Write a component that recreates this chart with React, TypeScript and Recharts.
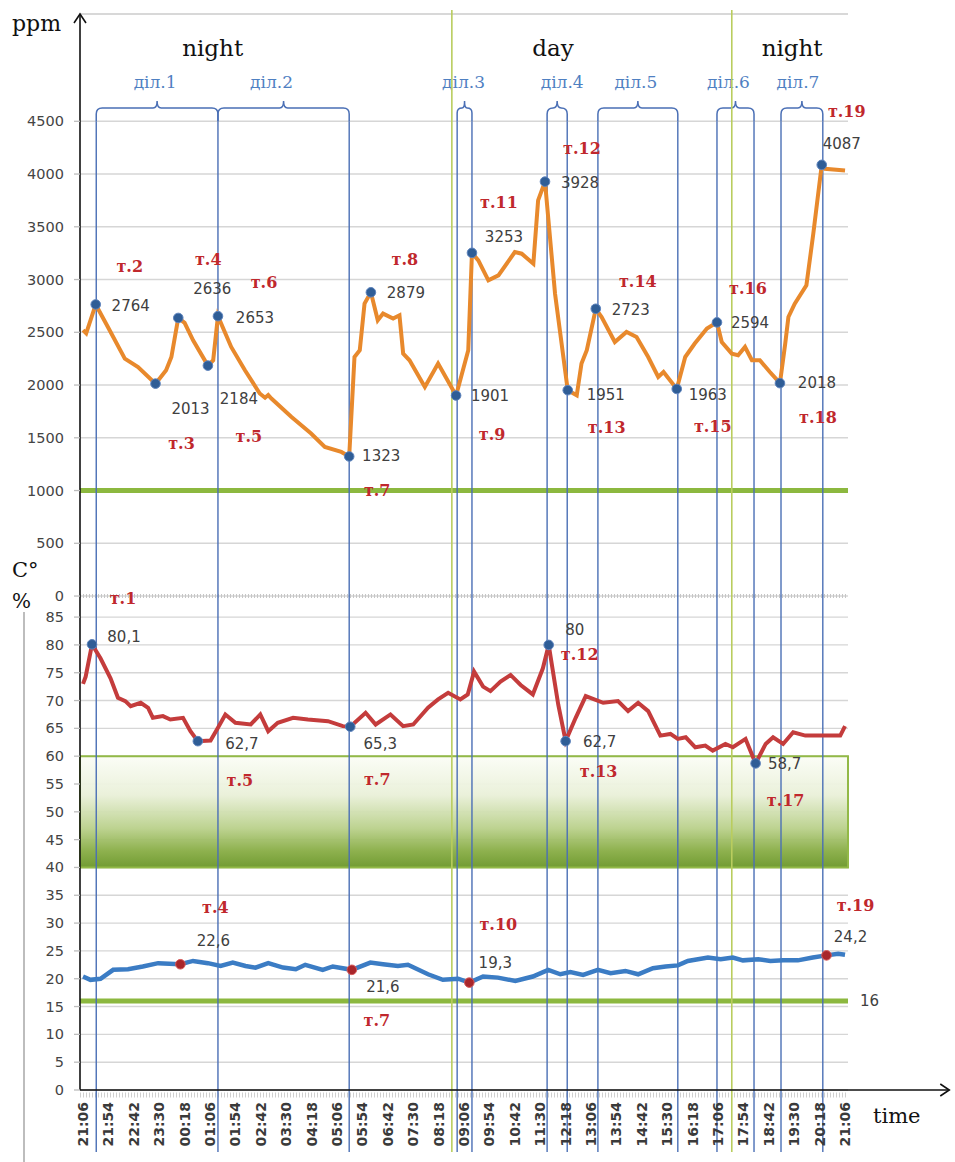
import React from "react";
import {
  ComposedChart,
  Line,
  XAxis,
  YAxis,
  CartesianGrid,
  ReferenceLine,
  ReferenceArea,
  ReferenceDot,
} from "recharts";

// x values are minutes after 21:06
const TIME_LABELS = [
  "21:06", "21:54", "22:42", "23:30", "00:18", "01:06", "01:54", "02:42", "03:30", "04:18",
  "05:06", "05:54", "06:42", "07:30", "08:18", "09:06", "09:54", "10:42", "11:30", "12:18",
  "13:06", "13:54", "14:42", "15:30", "16:18", "17:06", "17:54", "18:42", "19:30", "20:18", "21:06",
];
const TICK_STEP = 48;
const PPM_TICKS = [0, 500, 1000, 1500, 2000, 2500, 3000, 3500, 4000, 4500];
const PCT_TICKS = [0, 5, 10, 15, 20, 25, 30, 35, 40, 45, 50, 55, 60, 65, 70, 75, 80, 85];

// CO2, ppm
const CO2_T = [0, 6, 24, 47, 79, 104, 137, 157, 167, 180, 192, 208, 236, 246, 255, 280, 306, 334, 344, 350,
  356, 394, 431, 457, 488, 503, 513, 523, 532, 544, 557, 567, 586, 598, 605, 617, 646, 671, 705, 728,
  735, 747, 766, 785, 816, 829, 851, 860, 873, 879, 892, 916, 933, 942, 952, 969, 980, 1005, 1027, 1046,
  1068, 1087, 1097, 1122, 1138, 1156, 1179, 1198, 1207, 1226, 1238, 1251, 1264, 1279, 1298, 1317, 1327, 1333, 1345, 1367,
  1380, 1396, 1402, 1440];
const CO2_V = [2520, 2490, 2764, 2550, 2250, 2170, 2013, 2140, 2266, 2636, 2590, 2424, 2184, 2235, 2653, 2361, 2140, 1920, 1880, 1905,
  1872, 1698, 1541, 1414, 1366, 1323, 2266, 2330, 2772, 2879, 2614, 2677, 2630, 2661, 2298, 2235, 1982, 2204, 1901, 2330,
  3253, 3182, 2992, 3040, 3260, 3245, 3150, 3750, 3928, 3592, 2866, 1951, 1903, 2204, 2330, 2723, 2645, 2408, 2503, 2456,
  2266, 2077, 2124, 1963, 2266, 2393, 2535, 2594, 2408, 2298, 2282, 2361, 2235, 2235, 2124, 2018, 2393, 2645, 2772, 2945,
  3434, 4087, 4050, 4034];

// relative humidity, %
const HUM_T = [0, 5, 17, 33, 52, 66, 80, 90, 109, 123, 132, 151, 165, 189, 203, 217, 241, 255, 269, 288,
  317, 335, 350, 368, 397, 425, 463, 491, 505, 534, 553, 581, 605, 624, 652, 671, 690, 713, 727, 739,
  756, 770, 789, 808, 827, 850, 869, 880, 898, 912, 931, 950, 983, 1011, 1030, 1049, 1068, 1091, 1110, 1124,
  1139, 1157, 1176, 1190, 1214, 1228, 1252, 1271, 1290, 1304, 1323, 1342, 1365, 1389, 1408, 1431, 1440];
const HUM_V = [73, 74.3, 80.1, 77.6, 74, 70.5, 69.9, 69, 69.6, 68.7, 66.9, 67.2, 66.6, 66.9, 64.5, 62.7, 62.8, 65.1, 67.5, 66,
  65.7, 67.5, 64.5, 66, 66.9, 66.6, 66.3, 65.4, 65.3, 67.8, 65.7, 67.5, 65.4, 65.7, 68.7, 70.2, 71.4, 70.2, 71.1, 75.2,
  72.5, 71.7, 73.4, 74.6, 72.8, 71.1, 75.8, 80, 69.3, 62.7, 66.9, 70.8, 69.6, 69.9, 68.1, 69.6, 68.1, 63.7, 64, 63.1,
  63.4, 61.6, 61.9, 61, 62.2, 61.6, 63.1, 58.7, 62.2, 63.4, 62.2, 64.3, 63.7, 63.7, 63.7, 63.7, 65.4];

// temperature, C
const TEMP_T = [0, 14, 33, 57, 85, 113, 142, 184, 208, 236, 260, 283, 307, 326, 350, 378, 402, 420, 453, 472,
  508, 543, 567, 595, 614, 652, 680, 709, 730, 756, 784, 817, 850, 879, 902, 921, 945, 973, 997, 1025,
  1049, 1077, 1101, 1124, 1143, 1181, 1205, 1228, 1247, 1276, 1299, 1323, 1351, 1379, 1405, 1427, 1440];
const TEMP_V = [20.4, 19.8, 20, 21.6, 21.7, 22.2, 22.8, 22.6, 23.2, 22.8, 22.3, 22.9, 22.3, 22, 22.8, 22, 21.7, 22.5, 21.6, 22.2,
  21.6, 22.9, 22.6, 22.3, 22.5, 20.8, 19.8, 20, 19.3, 20.4, 20.2, 19.6, 20.4, 21.6, 20.8, 21.2, 20.7, 21.6, 21, 21.4,
  20.8, 21.9, 22.2, 22.4, 23.2, 23.8, 23.5, 23.8, 23.3, 23.5, 23.2, 23.3, 23.3, 23.8, 24.2, 24.5, 24.3];

// marked points: [tag, minute]
const CO2_MARKS = [["т.2", 24], ["т.3", 137], ["т.4", 180], ["т.5", 236], ["т.6", 255], ["т.7", 503], ["т.8", 544],
  ["т.9", 705], ["т.11", 735], ["т.12", 873], ["т.13", 916], ["т.14", 969], ["т.15", 1122], ["т.16", 1198],
  ["т.18", 1317], ["т.19", 1396]];
const HUM_MARKS = [["т.1", 17], ["т.5", 217], ["т.7", 505], ["т.12", 880], ["т.13", 912], ["т.17", 1271]];
const TEMP_MARKS = [["т.4", 184], ["т.7", 508], ["т.10", 730], ["т.19", 1405]];

// sections: [name, from, to] in minutes
const SECTIONS = [["діл.1", 25, 255], ["діл.2", 255, 503], ["діл.3", 707, 735], ["діл.4", 877, 915],
  ["діл.5", 973, 1124], ["діл.6", 1198, 1268], ["діл.7", 1319, 1398]];
const DAY_BOUNDS = [697, 1226];
const PERIODS = [["night", 245], ["day", 888], ["night", 1340]];
const CO2_LIMIT = 1000;
const TEMP_LIMIT = 16;
const HUM_MIN = 40;
const HUM_MAX = 60;

// ---- layout ----
const W = 955;
const H = 1162;
const PLOT_L = 80;
const PLOT_T = 14;
const PLOT_B = 1090;
const X_DOMAIN = [-5.7, 1445.6];
const PPM_DOMAIN = [-4682, 5517];
const PCT_DOMAIN = [0, 193.4];
const ppmAt = (py: number) =>
  PPM_DOMAIN[1] - ((py - PLOT_T) / (PLOT_B - PLOT_T)) * (PPM_DOMAIN[1] - PPM_DOMAIN[0]);
const pctAt = (py: number) => PCT_DOMAIN[1] - ((py - PLOT_T) / (PLOT_B - PLOT_T)) * PCT_DOMAIN[1];

// label offsets [valueDx, valueDy, tagDx, tagDy]
const LABEL_POS: Record<string, Record<string, number[]>> = {
  co2: {
    "т.2": [35, 2, 34, -38], "т.3": [35, 25, 26, 60], "т.4": [34, -29, 30, -58], "т.5": [31, 33, 41, 71],
    "т.6": [37, 2, 46, -34], "т.7": [32, 0, 28, 34], "т.8": [35, 1, 34, -33], "т.9": [34, 1, 36, 39],
    "т.11": [32, -16, 27, -50], "т.12": [35, 1, 37, -33], "т.13": [38, 5, 39, 37], "т.14": [35, 1, 42, -27],
    "т.15": [31, 6, 36, 38], "т.16": [33, 1, 31, -34], "т.18": [37, 0, 38, 34], "т.19": [20, -21, 25, -53],
  },
  hum: {
    "т.1": [32, -7, 31, -46], "т.5": [44, 3, 42, 39], "т.7": [30, 17, 27, 53],
    "т.12": [26, -15, 31, 10], "т.13": [34, 1, 33, 30], "т.17": [29, 1, 30, 37],
  },
  temp: {
    "т.4": [33, -23, 35, -57], "т.7": [31, 17, 25, 51], "т.10": [26, -20, 29, -58], "т.19": [24, -18, 29, -50],
  },
};
const SECTION_LABEL_DX = [-2, -12, -1, 5, -2, -7, -4];

const BLUE = "#4a6fb5";
const GREEN = "#8cb83f";
const DAY_GREEN = "#b9cd5e";
const GRID = "#d6d6d6";
const RED_TEXT = "#c0282d";
const SANS = "DejaVu Sans, sans-serif";
const SERIF = "DejaVu Serif, serif";

const toRows = (ts: number[], vs: number[]) => ts.map((t, i) => ({ t, v: vs[i] }));
const co2Data = toRows(CO2_T, CO2_V);
const humData = toRows(HUM_T, HUM_V);
const tempData = toRows(TEMP_T, TEMP_V);
const valueAt = (ts: number[], vs: number[], t: number) => vs[ts.indexOf(t)];
const fmtComma = (v: number) => String(v).replace(".", ",");

const boundaries = Array.from(new Set(SECTIONS.flatMap((s) => [s[1] as number, s[2] as number])));

const YTick = ({ y, payload }: any) => (
  <g>
    <line x1={PLOT_L - 6} x2={PLOT_L} y1={y} y2={y} stroke="#bdbdbd" strokeWidth={1.3} />
    <text x={PLOT_L - 16} y={y} textAnchor="end" dominantBaseline="central" fontFamily={SANS} fontSize={14.5} fill="#444">
      {payload.value}
    </text>
  </g>
);

const TimeTick = ({ x, y, payload }: any) => {
  const ty = y + 4;
  return (
    <text
      x={x}
      y={ty}
      transform={`rotate(-90 ${x} ${ty})`}
      textAnchor="end"
      dominantBaseline="central"
      fontFamily={SANS}
      fontWeight="bold"
      fontSize={14}
      fill="#3a3a3a"
    >
      {TIME_LABELS[Math.round(payload.value / TICK_STEP)]}
    </text>
  );
};

const Brace = (props: any) => {
  const { x, y, width, height, name, dx } = props;
  const r = Math.min(6, width / 3);
  const m = x + width / 2;
  const h = Math.max(1, Math.min(4, width / 2 - r));
  const top = y;
  const bot = y + height;
  const x2 = x + width;
  const d = `M${x},${bot} L${x},${top + r} Q${x},${top} ${x + r},${top} L${m - h},${top} Q${m},${top} ${m},${top - 7} Q${m},${top} ${m + h},${top} L${x2 - r},${top} Q${x2},${top} ${x2},${top + r} L${x2},${bot}`;
  return (
    <g>
      <path d={d} fill="none" stroke={BLUE} strokeWidth={1.5} />
      <text x={m + dx} y={top - 20} textAnchor="middle" fontFamily={SERIF} fontSize={17} fill="#4f80c2">
        {name}
      </text>
    </g>
  );
};

const markShape = (tag: string, pos: number[], text: string, dot: string, ring: string) => (p: any) => (
  <g>
    <circle cx={p.cx} cy={p.cy} r={4.8} fill={dot} stroke={ring} strokeWidth={1} />
    <text x={p.cx + pos[0]} y={p.cy + pos[1]} textAnchor="middle" dominantBaseline="central" fontFamily={SANS} fontSize={15} fill="#404040">
      {text}
    </text>
    <text x={p.cx + pos[2]} y={p.cy + pos[3]} textAnchor="middle" dominantBaseline="central" fontFamily={SERIF} fontWeight="bold" fontSize={16} fill={RED_TEXT}>
      {tag}
    </text>
  </g>
);

const AxisArrow = (props: any) => {
  const { x1, y1, x2, y2, vertical } = props;
  if (vertical) {
    const top = Math.min(y1, y2);
    const bot = Math.max(y1, y2);
    return (
      <g>
        <line x1={x1} x2={x1} y1={top} y2={bot} stroke="#111" strokeWidth={1.6} />
        <path d={`M${x1 - 6},${top + 9} L${x1},${top} L${x1 + 6},${top + 9}`} fill="none" stroke="#111" strokeWidth={1.6} />
      </g>
    );
  }
  const left = Math.min(x1, x2);
  const right = Math.max(x1, x2);
  return (
    <g>
      <line x1={left} x2={right} y1={y1} y2={y1} stroke="#111" strokeWidth={1.6} />
      <path d={`M${right - 9},${y1 - 6} L${right},${y1} L${right - 9},${y1 + 6}`} fill="none" stroke="#111" strokeWidth={1.6} />
    </g>
  );
};

export default function App() {
  return (
    <div style={{ width: W, height: H, background: "#fff" }}>
      <style>{"body{margin:0}"}</style>
      <ComposedChart width={W} height={H} margin={{ top: PLOT_T, right: 107, bottom: 12, left: 0 }}>
        <defs>
          <linearGradient id="comfort" x1="0" y1="0" x2="0" y2="1">
            <stop offset="0%" stopColor="#fbfdf6" />
            <stop offset="35%" stopColor="#e9f0d8" />
            <stop offset="65%" stopColor="#b9d08a" />
            <stop offset="85%" stopColor="#88ad45" />
            <stop offset="100%" stopColor="#6a9628" />
          </linearGradient>
        </defs>
        <CartesianGrid yAxisId="ppm" vertical={false} stroke={GRID} strokeWidth={1.4} />
        <CartesianGrid yAxisId="pct" vertical={false} stroke={GRID} strokeWidth={1.4} />
        <XAxis
          type="number"
          dataKey="t"
          domain={X_DOMAIN}
          ticks={TIME_LABELS.map((_, i) => i * TICK_STEP)}
          interval={0}
          allowDataOverflow
          axisLine={false}
          tickLine={false}
          height={60}
          tick={<TimeTick />}
        />
        <YAxis yAxisId="ppm" type="number" domain={PPM_DOMAIN} ticks={PPM_TICKS} interval={0} allowDataOverflow width={40} axisLine={false} tickLine={false} tick={<YTick />} />
        <YAxis yAxisId="pct" type="number" domain={PCT_DOMAIN} ticks={PCT_TICKS} interval={0} allowDataOverflow width={40} axisLine={false} tickLine={false} tick={<YTick />} />

        <ReferenceArea yAxisId="pct" y1={HUM_MIN} y2={HUM_MAX} fill="url(#comfort)" fillOpacity={0.95} stroke="#92b947" strokeWidth={2} />
        <ReferenceLine yAxisId="ppm" y={0} stroke="#c6c6c6" strokeWidth={4} strokeDasharray="1 2" />
        <ReferenceLine yAxisId="pct" y={pctAt(1095)} stroke="#cfcfcf" strokeWidth={5} strokeDasharray="1 2" ifOverflow="visible" />
        <ReferenceLine yAxisId="ppm" y={CO2_LIMIT} stroke={GREEN} strokeWidth={5} />
        <ReferenceLine
          yAxisId="pct"
          y={TEMP_LIMIT}
          stroke={GREEN}
          strokeWidth={5}
          label={{ value: String(TEMP_LIMIT), position: "right", offset: 12, fill: "#404040", fontSize: 15, fontFamily: SANS }}
        />

        {DAY_BOUNDS.map((t) => (
          <ReferenceLine
            key={`d${t}`}
            yAxisId="ppm"
            segment={[{ x: t, y: ppmAt(10) }, { x: t, y: ppmAt(1152) }]}
            stroke={DAY_GREEN}
            strokeWidth={1.6}
            ifOverflow="visible"
          />
        ))}
        {boundaries.map((t) => (
          <ReferenceLine
            key={`b${t}`}
            yAxisId="ppm"
            segment={[{ x: t, y: 4500 }, { x: t, y: ppmAt(1152) }]}
            stroke={BLUE}
            strokeWidth={1.4}
            ifOverflow="visible"
          />
        ))}
        {SECTIONS.map((s, i) => (
          <ReferenceArea
            key={`s${i}`}
            yAxisId="ppm"
            x1={s[1] as number}
            x2={s[2] as number}
            y1={4500}
            y2={4625}
            ifOverflow="visible"
            shape={(p: any) => <Brace {...p} name={s[0]} dx={SECTION_LABEL_DX[i]} />}
          />
        ))}
        {PERIODS.map((p, i) => (
          <ReferenceDot
            key={`p${i}`}
            yAxisId="ppm"
            x={p[1] as number}
            y={ppmAt(56)}
            ifOverflow="visible"
            shape={(q: any) => (
              <text x={q.cx} y={q.cy} textAnchor="middle" fontFamily={SERIF} fontSize={23} fill="#111">
                {p[0]}
              </text>
            )}
          />
        ))}

        <ReferenceLine
          yAxisId="pct"
          segment={[{ x: X_DOMAIN[0], y: 0 }, { x: X_DOMAIN[0], y: PCT_DOMAIN[1] }]}
          ifOverflow="visible"
          shape={(p: any) => <AxisArrow {...p} vertical />}
        />
        <ReferenceLine
          yAxisId="pct"
          segment={[{ x: X_DOMAIN[0], y: 0 }, { x: 1637, y: 0 }]}
          ifOverflow="visible"
          shape={(p: any) => <AxisArrow {...p} />}
        />

        <Line yAxisId="ppm" data={co2Data} dataKey="v" type="linear" stroke="#e8892c" strokeWidth={4} dot={false} isAnimationActive={false} />
        <Line yAxisId="pct" data={humData} dataKey="v" type="linear" stroke="#c43c3c" strokeWidth={4} dot={false} isAnimationActive={false} />
        <Line yAxisId="pct" data={tempData} dataKey="v" type="linear" stroke="#3b7cc4" strokeWidth={4.5} dot={false} isAnimationActive={false} />

        {CO2_MARKS.map(([tag, t]) => {
          const v = valueAt(CO2_T, CO2_V, t as number);
          return (
            <ReferenceDot key={`c${tag}`} yAxisId="ppm" x={t as number} y={v} shape={markShape(tag as string, LABEL_POS.co2[tag as string], String(v), "#2f5d96", "#5d83bd")} />
          );
        })}
        {HUM_MARKS.map(([tag, t]) => {
          const v = valueAt(HUM_T, HUM_V, t as number);
          return (
            <ReferenceDot key={`h${tag}`} yAxisId="pct" x={t as number} y={v} shape={markShape(tag as string, LABEL_POS.hum[tag as string], fmtComma(v), "#2f5d96", "#5d83bd")} />
          );
        })}
        {TEMP_MARKS.map(([tag, t]) => {
          const v = valueAt(TEMP_T, TEMP_V, t as number);
          return (
            <ReferenceDot key={`t${tag}`} yAxisId="pct" x={t as number} y={v} shape={markShape(tag as string, LABEL_POS.temp[tag as string], fmtComma(v), "#a8262b", "#d75a5a")} />
          );
        })}

        <text x={12} y={31} fontFamily={SERIF} fontSize={22} fill="#111">ppm</text>
        <text x={12} y={577} fontFamily={SERIF} fontSize={21} fill="#111">C°</text>
        <text x={12} y={608} fontFamily={SERIF} fontSize={20} fill="#111">%</text>
        <line x1={24} x2={24} y1={612} y2={H} stroke="#bdbdbd" strokeWidth={2} />
        <text x={873} y={1123} fontFamily={SERIF} fontSize={21} fill="#111">time</text>
      </ComposedChart>
    </div>
  );
}
